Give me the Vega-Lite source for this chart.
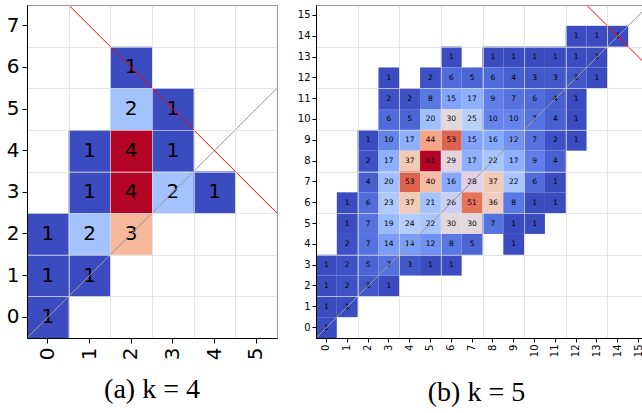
{
  "$schema": "https://vega.github.io/schema/vega-lite/v6.json",
  "padding": {"left": 5, "top": 4, "right": 0, "bottom": 0},
  "spacing": 18,
  "background": "white",
  "config": {
    "view": {"stroke": "black", "strokeWidth": 1},
    "axis": {"domainColor": "black", "tickColor": "black", "labelColor": "black", "labelFont": "DejaVu Sans", "title": null},
    "title": {"font": "Liberation Serif", "fontWeight": "normal", "color": "black"}
  },
  "resolve": {"scale": {"color": "independent"}},
  "datasets": {
    "a": [
      {"x": 0, "y": 0, "count": 1}, {"x": 0, "y": 1, "count": 1}, {"x": 1, "y": 1, "count": 1},
      {"x": 0, "y": 2, "count": 1}, {"x": 1, "y": 2, "count": 2}, {"x": 2, "y": 2, "count": 3},
      {"x": 1, "y": 3, "count": 1}, {"x": 2, "y": 3, "count": 4}, {"x": 3, "y": 3, "count": 2}, {"x": 4, "y": 3, "count": 1},
      {"x": 1, "y": 4, "count": 1}, {"x": 2, "y": 4, "count": 4}, {"x": 3, "y": 4, "count": 1},
      {"x": 2, "y": 5, "count": 2}, {"x": 3, "y": 5, "count": 1},
      {"x": 2, "y": 6, "count": 1}
    ],
    "b": [
      {"x": 12, "y": 14, "count": 1}, {"x": 13, "y": 14, "count": 1}, {"x": 14, "y": 14, "count": 1},
      {"x": 6, "y": 13, "count": 1}, {"x": 8, "y": 13, "count": 1}, {"x": 9, "y": 13, "count": 1}, {"x": 10, "y": 13, "count": 1}, {"x": 11, "y": 13, "count": 1}, {"x": 12, "y": 13, "count": 1}, {"x": 13, "y": 13, "count": 1},
      {"x": 3, "y": 12, "count": 1}, {"x": 5, "y": 12, "count": 2}, {"x": 6, "y": 12, "count": 6}, {"x": 7, "y": 12, "count": 5}, {"x": 8, "y": 12, "count": 6}, {"x": 9, "y": 12, "count": 4}, {"x": 10, "y": 12, "count": 3}, {"x": 11, "y": 12, "count": 3}, {"x": 12, "y": 12, "count": 3}, {"x": 13, "y": 12, "count": 1},
      {"x": 3, "y": 11, "count": 2}, {"x": 4, "y": 11, "count": 2}, {"x": 5, "y": 11, "count": 8}, {"x": 6, "y": 11, "count": 15}, {"x": 7, "y": 11, "count": 17}, {"x": 8, "y": 11, "count": 9}, {"x": 9, "y": 11, "count": 7}, {"x": 10, "y": 11, "count": 6}, {"x": 11, "y": 11, "count": 4}, {"x": 12, "y": 11, "count": 1},
      {"x": 3, "y": 10, "count": 6}, {"x": 4, "y": 10, "count": 5}, {"x": 5, "y": 10, "count": 20}, {"x": 6, "y": 10, "count": 30}, {"x": 7, "y": 10, "count": 25}, {"x": 8, "y": 10, "count": 10}, {"x": 9, "y": 10, "count": 10}, {"x": 10, "y": 10, "count": 7}, {"x": 11, "y": 10, "count": 4}, {"x": 12, "y": 10, "count": 1},
      {"x": 2, "y": 9, "count": 1}, {"x": 3, "y": 9, "count": 10}, {"x": 4, "y": 9, "count": 17}, {"x": 5, "y": 9, "count": 44}, {"x": 6, "y": 9, "count": 53}, {"x": 7, "y": 9, "count": 15}, {"x": 8, "y": 9, "count": 16}, {"x": 9, "y": 9, "count": 12}, {"x": 10, "y": 9, "count": 7}, {"x": 11, "y": 9, "count": 2}, {"x": 12, "y": 9, "count": 1},
      {"x": 2, "y": 8, "count": 2}, {"x": 3, "y": 8, "count": 17}, {"x": 4, "y": 8, "count": 37}, {"x": 5, "y": 8, "count": 61}, {"x": 6, "y": 8, "count": 29}, {"x": 7, "y": 8, "count": 17}, {"x": 8, "y": 8, "count": 22}, {"x": 9, "y": 8, "count": 17}, {"x": 10, "y": 8, "count": 9}, {"x": 11, "y": 8, "count": 4},
      {"x": 2, "y": 7, "count": 4}, {"x": 3, "y": 7, "count": 20}, {"x": 4, "y": 7, "count": 53}, {"x": 5, "y": 7, "count": 40}, {"x": 6, "y": 7, "count": 16}, {"x": 7, "y": 7, "count": 28}, {"x": 8, "y": 7, "count": 37}, {"x": 9, "y": 7, "count": 22}, {"x": 10, "y": 7, "count": 6}, {"x": 11, "y": 7, "count": 1},
      {"x": 1, "y": 6, "count": 1}, {"x": 2, "y": 6, "count": 6}, {"x": 3, "y": 6, "count": 23}, {"x": 4, "y": 6, "count": 37}, {"x": 5, "y": 6, "count": 21}, {"x": 6, "y": 6, "count": 26}, {"x": 7, "y": 6, "count": 51}, {"x": 8, "y": 6, "count": 36}, {"x": 9, "y": 6, "count": 8}, {"x": 10, "y": 6, "count": 1}, {"x": 11, "y": 6, "count": 1},
      {"x": 1, "y": 5, "count": 1}, {"x": 2, "y": 5, "count": 7}, {"x": 3, "y": 5, "count": 19}, {"x": 4, "y": 5, "count": 24}, {"x": 5, "y": 5, "count": 22}, {"x": 6, "y": 5, "count": 30}, {"x": 7, "y": 5, "count": 30}, {"x": 8, "y": 5, "count": 7}, {"x": 9, "y": 5, "count": 1}, {"x": 10, "y": 5, "count": 1},
      {"x": 1, "y": 4, "count": 2}, {"x": 2, "y": 4, "count": 7}, {"x": 3, "y": 4, "count": 14}, {"x": 4, "y": 4, "count": 14}, {"x": 5, "y": 4, "count": 12}, {"x": 6, "y": 4, "count": 8}, {"x": 7, "y": 4, "count": 5}, {"x": 9, "y": 4, "count": 1},
      {"x": 0, "y": 3, "count": 1}, {"x": 1, "y": 3, "count": 2}, {"x": 2, "y": 3, "count": 5}, {"x": 3, "y": 3, "count": 7}, {"x": 4, "y": 3, "count": 3}, {"x": 5, "y": 3, "count": 1}, {"x": 6, "y": 3, "count": 1},
      {"x": 0, "y": 2, "count": 1}, {"x": 1, "y": 2, "count": 2}, {"x": 2, "y": 2, "count": 3}, {"x": 3, "y": 2, "count": 1},
      {"x": 0, "y": 1, "count": 1}, {"x": 1, "y": 1, "count": 1},
      {"x": 0, "y": 0, "count": 1}
    ]
  },
  "hconcat": [
    {
      "width": 250,
      "height": 333,
      "title": {"text": "(a) k = 4", "orient": "bottom", "fontSize": 28, "offset": 16},
      "layer": [
        {
          "data": {"name": "a"},
          "encoding": {
            "x": {"field": "x", "type": "ordinal", "scale": {"domain": [0, 1, 2, 3, 4, 5], "paddingInner": 0, "paddingOuter": 0},
                  "axis": {"labelAngle": -90, "labelFontSize": 20, "grid": false, "tickSize": 5, "labelPadding": 4}},
            "y": {"field": "y", "type": "ordinal", "scale": {"domain": [7, 6, 5, 4, 3, 2, 1, 0], "paddingInner": 0, "paddingOuter": 0},
                  "axis": {"labelAngle": 0, "labelFontSize": 20, "grid": false, "tickSize": 5, "labelPadding": 3}}
          },
          "layer": [
            {
              "mark": {"type": "rect"},
              "encoding": {
                "color": {"field": "count", "type": "quantitative",
                  "scale": {"domain": [1, 1.3, 1.6, 1.9, 2.2, 2.5, 2.8, 3.1, 3.4, 3.7, 4],
                            "range": ["#3b4cc0", "#5572df", "#7597f6", "#9abbff", "#b9d0f9", "#dddcdc", "#f2cbb7", "#f7ac8e", "#ee8468", "#d65244", "#b40426"]},
                  "legend": null}
              }
            },
            {
              "mark": {"type": "text", "fontSize": 20, "font": "DejaVu Sans", "color": "black"},
              "encoding": {"text": {"field": "count", "type": "quantitative"}}
            }
          ]
        },
        {
          "layer": [
            {
              "data": {"values": [{"x1": -0.5, "y1": -0.5, "x2": 5.5, "y2": 5.5}]},
              "mark": {"type": "rule", "color": "#999999", "strokeWidth": 1, "clip": true},
              "encoding": {
                "x": {"field": "x1", "type": "quantitative", "scale": {"domain": [-0.5, 5.5], "nice": false, "zero": false},
                      "axis": {"orient": "bottom", "values": [-0.5, 0.5, 1.5, 2.5, 3.5, 4.5, 5.5], "labels": false, "ticks": false, "domain": false, "grid": true, "gridColor": "#d8d8d8", "gridOpacity": 0.7, "zindex": 1}},
                "y": {"field": "y1", "type": "quantitative", "scale": {"domain": [-0.5, 7.5], "nice": false, "zero": false},
                      "axis": {"orient": "left", "values": [-0.5, 0.5, 1.5, 2.5, 3.5, 4.5, 5.5, 6.5, 7.5], "labels": false, "ticks": false, "domain": false, "grid": true, "gridColor": "#d8d8d8", "gridOpacity": 0.7, "zindex": 1}},
                "x2": {"field": "x2"},
                "y2": {"field": "y2"}
              }
            },
            {
              "data": {"values": [{"x1": 0.5, "y1": 7.5, "x2": 5.5, "y2": 2.5}]},
              "mark": {"type": "rule", "color": "#ff0000", "strokeWidth": 1, "clip": true},
              "encoding": {
                "x": {"field": "x1", "type": "quantitative"},
                "y": {"field": "y1", "type": "quantitative"},
                "x2": {"field": "x2"},
                "y2": {"field": "y2"}
              }
            }
          ]
        }
      ],
      "resolve": {"scale": {"x": "independent", "y": "independent"}}
    },
    {
      "width": 333,
      "height": 333,
      "title": {"text": "(b) k = 5", "orient": "bottom", "fontSize": 28, "offset": 22, "dx": -6},
      "layer": [
        {
          "data": {"name": "b"},
          "encoding": {
            "x": {"field": "x", "type": "ordinal", "scale": {"domain": [0, 1, 2, 3, 4, 5, 6, 7, 8, 9, 10, 11, 12, 13, 14, 15], "paddingInner": 0, "paddingOuter": 0},
                  "axis": {"labelAngle": -90, "labelFontSize": 10, "grid": false, "tickSize": 4, "labelPadding": 2}},
            "y": {"field": "y", "type": "ordinal", "scale": {"domain": [15, 14, 13, 12, 11, 10, 9, 8, 7, 6, 5, 4, 3, 2, 1, 0], "paddingInner": 0, "paddingOuter": 0},
                  "axis": {"labelAngle": 0, "labelFontSize": 10, "grid": false, "tickSize": 4, "labelPadding": 2}}
          },
          "layer": [
            {
              "mark": {"type": "rect"},
              "encoding": {
                "color": {"field": "count", "type": "quantitative",
                  "scale": {"domain": [1, 7, 13, 19, 25, 31, 37, 43, 49, 55, 61],
                            "range": ["#3b4cc0", "#5572df", "#7597f6", "#9abbff", "#b9d0f9", "#dddcdc", "#f2cbb7", "#f7ac8e", "#ee8468", "#d65244", "#b40426"]},
                  "legend": null}
              }
            },
            {
              "mark": {"type": "text", "fontSize": 7.5, "font": "DejaVu Sans", "color": "black"},
              "encoding": {"text": {"field": "count", "type": "quantitative"}}
            }
          ]
        },
        {
          "layer": [
            {
              "data": {"values": [{"x1": -0.5, "y1": -0.5, "x2": 15.5, "y2": 15.5}]},
              "mark": {"type": "rule", "color": "#999999", "strokeWidth": 1, "clip": true},
              "encoding": {
                "x": {"field": "x1", "type": "quantitative", "scale": {"domain": [-0.5, 15.5], "nice": false, "zero": false},
                      "axis": {"orient": "bottom", "values": [-0.5, 0.5, 1.5, 2.5, 3.5, 4.5, 5.5, 6.5, 7.5, 8.5, 9.5, 10.5, 11.5, 12.5, 13.5, 14.5, 15.5], "labels": false, "ticks": false, "domain": false, "grid": true, "gridColor": "#d8d8d8", "gridOpacity": 0.7, "zindex": 1}},
                "y": {"field": "y1", "type": "quantitative", "scale": {"domain": [-0.5, 15.5], "nice": false, "zero": false},
                      "axis": {"orient": "left", "values": [-0.5, 0.5, 1.5, 2.5, 3.5, 4.5, 5.5, 6.5, 7.5, 8.5, 9.5, 10.5, 11.5, 12.5, 13.5, 14.5, 15.5], "labels": false, "ticks": false, "domain": false, "grid": true, "gridColor": "#d8d8d8", "gridOpacity": 0.7, "zindex": 1}},
                "x2": {"field": "x2"},
                "y2": {"field": "y2"}
              }
            },
            {
              "data": {"values": [{"x1": 12.5, "y1": 15.5, "x2": 15.5, "y2": 12.5}]},
              "mark": {"type": "rule", "color": "#ff0000", "strokeWidth": 1, "clip": true},
              "encoding": {
                "x": {"field": "x1", "type": "quantitative"},
                "y": {"field": "y1", "type": "quantitative"},
                "x2": {"field": "x2"},
                "y2": {"field": "y2"}
              }
            }
          ]
        }
      ],
      "resolve": {"scale": {"x": "independent", "y": "independent"}}
    }
  ]
}
